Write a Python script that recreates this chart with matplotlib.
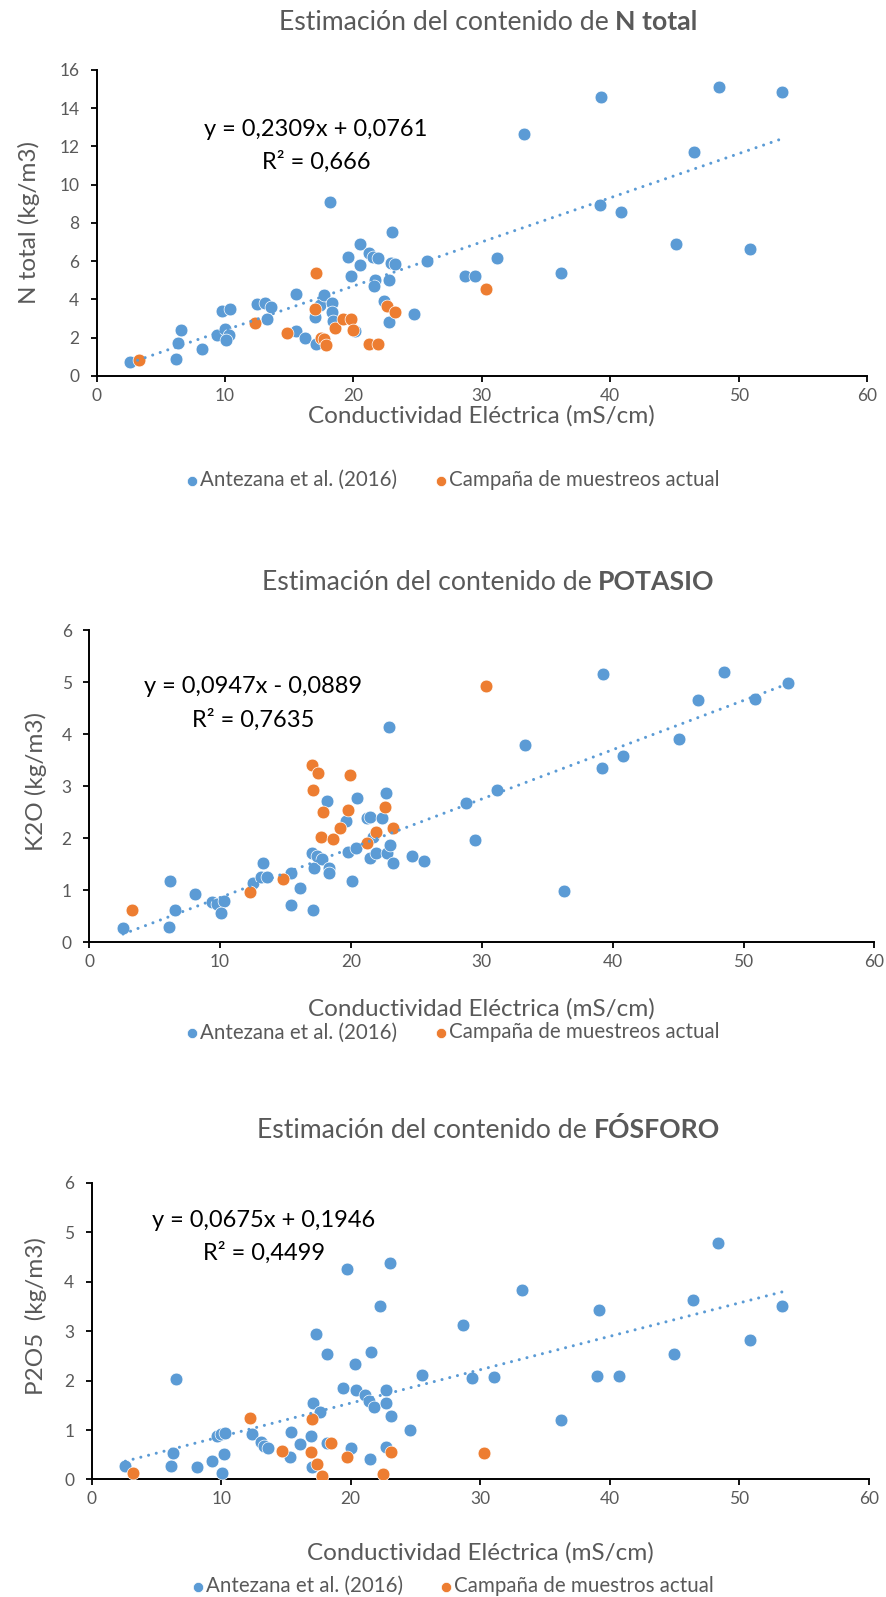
import matplotlib.pyplot as plt
from matplotlib.offsetbox import TextArea, HPacker, AnchoredOffsetbox

# ---- datos ----
# N total
ce_ant_n = [2.6, 6.2, 6.3, 6.6, 8.2, 9.4, 9.8, 10.4, 10.0, 10.3, 10.1, 12.5, 13.1, 13.6,
            13.3, 15.5, 15.5, 16.2, 17.0, 17.1, 17.4, 17.7, 18.3, 18.3, 18.4, 18.2, 20.1,
            19.6, 19.8, 20.5, 20.5, 21.2, 21.5, 21.9, 21.7, 21.6, 22.8, 22.4, 22.8, 22.9,
            23.2, 23.0, 24.7, 25.7, 28.7, 29.5, 31.2, 33.3, 39.3, 36.2, 39.2, 40.8, 45.1,
            46.5, 48.5, 50.9, 53.4]
nt_ant = [0.73, 0.87, 1.69, 2.39, 1.41, 2.11, 3.40, 3.47, 2.43, 2.13, 1.87, 3.77, 3.82, 3.58,
          2.95, 4.26, 2.36, 1.99, 3.05, 1.66, 3.70, 4.22, 3.82, 3.32, 2.88, 9.09, 2.36,
          6.23, 5.20, 6.88, 5.81, 6.40, 6.20, 6.14, 5.01, 4.71, 5.01, 3.93, 2.83, 5.88,
          5.85, 7.52, 3.23, 5.99, 5.22, 5.20, 6.16, 12.65, 14.56, 5.39, 8.94, 8.55, 6.90,
          11.70, 15.10, 6.63, 14.84]
ce_act_n = [3.3, 12.3, 14.8, 17.1, 17.0, 17.5, 17.7, 17.9, 18.6, 19.2, 19.8, 20.0, 21.2,
            21.9, 22.6, 23.2, 30.3]
nt_act = [0.82, 2.77, 2.25, 5.39, 3.47, 2.00, 1.95, 1.61, 2.51, 2.95, 2.95, 2.39, 1.64,
          1.64, 3.66, 3.35, 4.56]

# POTASIO
ce_ant_k = [2.6, 6.1, 6.2, 6.6, 8.1, 9.4, 9.8, 10.3, 10.1, 12.5, 13.1, 13.3, 13.6, 15.4,
            15.4, 16.1, 17.0, 17.1, 17.2, 17.4, 17.8, 18.2, 18.3, 18.3, 19.6, 19.8, 20.1,
            20.4, 20.5, 21.2, 21.5, 21.5, 21.7, 21.9, 22.4, 22.7, 22.9, 22.8, 23.0, 23.2,
            24.7, 25.6, 28.8, 29.5, 31.2, 33.3, 36.3, 39.3, 39.2, 40.8, 45.1, 46.5, 48.5,
            50.9, 53.4]
k2o_ant = [0.27, 0.30, 1.17, 0.61, 0.93, 0.78, 0.74, 0.80, 0.57, 1.13, 1.26, 1.53, 1.26, 1.33,
           0.72, 1.04, 1.72, 0.62, 1.42, 1.66, 1.59, 2.71, 1.42, 1.33, 2.33, 1.74, 1.18,
           1.82, 2.78, 2.38, 2.41, 1.61, 2.02, 1.71, 2.38, 2.86, 4.14, 1.71, 1.87, 1.52,
           1.66, 1.56, 2.68, 1.97, 2.93, 3.79, 0.99, 5.15, 3.35, 3.57, 3.90, 4.65, 5.19,
           4.67, 4.99]
ce_act_k = [3.3, 12.3, 14.8, 17.0, 17.5, 17.1, 17.9, 17.7, 18.6, 19.2, 19.8, 19.9, 21.2,
            21.9, 22.6, 23.2, 30.3]
k2o_act = [0.62, 0.97, 1.22, 3.41, 3.25, 2.93, 2.50, 2.02, 1.98, 2.19, 2.55, 3.21, 1.90,
           2.11, 2.60, 2.19, 4.92]

# FOSFORO
ce_ant_p = [2.6, 6.1, 6.3, 6.5, 8.1, 9.3, 9.7, 10.0, 10.3, 10.2, 10.1, 12.4, 13.1, 13.3,
            13.6, 15.4, 15.3, 16.1, 16.9, 17.1, 17.6, 17.0, 17.3, 18.2, 18.2, 20.0, 19.4,
            20.3, 20.4, 21.1, 21.4, 21.8, 21.5, 21.6, 22.7, 22.7, 22.7, 23.1, 24.6, 25.5,
            19.7, 23.0, 22.3, 28.7, 29.4, 31.1, 33.2, 36.2, 39.2, 39.0, 40.7, 45.0, 46.4,
            48.4, 50.8, 53.3]
p2o5_ant = [0.28, 0.28, 0.54, 2.03, 0.26, 0.37, 0.87, 0.91, 0.95, 0.51, 0.13, 0.91, 0.76,
            0.68, 0.64, 0.97, 0.46, 0.71, 0.88, 1.54, 1.37, 0.25, 2.94, 2.53, 0.74, 0.64,
            1.86, 2.33, 1.80, 1.71, 1.59, 1.46, 0.41, 2.58, 1.80, 1.54, 0.65, 1.28, 1.00,
            2.11, 4.26, 4.37, 3.50, 3.12, 2.06, 2.08, 3.83, 1.20, 3.43, 2.09, 2.09, 2.53,
            3.62, 4.79, 2.82, 3.51]
ce_act_p = [3.2, 12.2, 14.7, 17.0, 16.9, 17.4, 17.8, 18.5, 19.7, 22.5, 23.1, 30.3]
p2o5_act = [0.14, 1.24, 0.58, 1.23, 0.55, 0.31, 0.08, 0.74, 0.45, 0.11, 0.55, 0.53]

# lineas de tendencia (pendiente, ordenada) y R2 de la serie Antezana
tend_n = (0.2309, 0.0761, "0,666")
tend_k = (0.0947, -0.0889, "0,7635")
tend_p = (0.0675, 0.1946, "0,4499")

AZUL = "#5B9BD5"
NARANJA = "#ED7D31"
GRIS = "#595959"

plt.rcParams["font.family"] = "Lato"

fig = plt.figure(figsize=(8.86, 15.97), dpi=100)


def coef(v):
    return f"{abs(v):.4f}".replace(".", ",")


def panel(rect, xa, ya, xb, yb, tend, ymax, ystep, ylabel, negrita,
          ytit, yleg, leg2, ylab_pos, xlab_y, eq_pos):
    ax = fig.add_axes(rect)
    ax.scatter(xa, ya, s=85, color=AZUL, edgecolors="white", linewidths=0.5,
               zorder=3, label="Antezana et al. (2016)")
    ax.scatter(xb, yb, s=85, color=NARANJA, edgecolors="white", linewidths=0.5,
               zorder=3, label=leg2)
    m, b, r2 = tend
    xs = [min(xa), max(xa)]
    ax.plot(xs, [m * x + b for x in xs], color=AZUL, lw=2.2,
            linestyle=(0, (0.01, 2.6)), dash_capstyle="round", zorder=4)
    signo = "+" if b >= 0 else "-"
    ax.text(eq_pos[0], eq_pos[1], f"y = {coef(m)}x {signo} {coef(b)}",
            transform=ax.transAxes, ha="center", va="center", fontsize=17)
    ax.text(eq_pos[0], eq_pos[2], f"R² = {r2}",
            transform=ax.transAxes, ha="center", va="center", fontsize=17)

    ax.set_xlim(0, 60)
    ax.set_ylim(0, ymax)
    ax.set_xticks(range(0, 61, 10))
    ax.set_yticks([i * ystep for i in range(int(ymax / ystep) + 1)])
    for s in ["top", "right"]:
        ax.spines[s].set_visible(False)
    for s in ["left", "bottom"]:
        ax.spines[s].set_linewidth(1.4)
    ax.tick_params(direction="out", length=4.5, width=1.3, labelsize=12.5,
                   labelcolor=GRIS)
    ax.tick_params(axis="y", pad=8)
    ax.tick_params(axis="x", pad=4)
    ax.set_xlabel("Conductividad Eléctrica (mS/cm)", fontsize=17.5, color=GRIS,
                  va="center")
    ax.xaxis.set_label_coords(0.5, xlab_y)
    ax.set_ylabel(ylabel, fontsize=17.5, color=GRIS, va="center")
    ax.yaxis.set_label_coords(*ylab_pos)

    t1 = TextArea("Estimación del contenido de",
                  textprops=dict(color=GRIS, fontsize=19.2))
    t2 = TextArea(negrita, textprops=dict(color=GRIS, fontsize=19.2,
                                          fontweight="bold"))
    caja = HPacker(children=[t1, t2], align="baseline", pad=0, sep=5)
    fig.add_artist(AnchoredOffsetbox(loc="center", child=caja, frameon=False,
                                     bbox_to_anchor=(0.551, ytit),
                                     bbox_transform=fig.transFigure,
                                     pad=0, borderpad=0))
    ax.legend(loc="center", bbox_to_anchor=(0.511, yleg),
              bbox_transform=fig.transFigure, ncol=2, frameon=False,
              fontsize=14.8, labelcolor=GRIS, scatterpoints=1, markerscale=0.8,
              handletextpad=0.1, columnspacing=1.8, handlelength=0.6)
    return ax


panel([0.1091, 0.7647, 0.8695, 0.1915], ce_ant_n, nt_ant, ce_act_n, nt_act,
      tend_n, 16, 2, "N total (kg/m3)", "N total",
      0.986, 0.6993, "Campaña de muestreos actual", (-0.0885, 0.5), -0.13,
      (0.2847, 0.8037, 0.700))

panel([0.1005, 0.4100, 0.8864, 0.1955], ce_ant_k, k2o_ant, ce_act_k, k2o_act,
      tend_k, 6, 1, "K2O (kg/m3)", "POTASIO",
      0.6353, 0.3535, "Campaña de muestreos actual", (-0.0679, 0.514), -0.2136,
      (0.2088, 0.8175, 0.7121))

panel([0.1035, 0.07358, 0.877, 0.1858], ce_ant_p, p2o5_ant, ce_act_p, p2o5_act,
      tend_p, 6, 1, "P2O5  (kg/m3)", "FÓSFORO",
      0.2925, 0.0069, "Campaña de muestros actual", (-0.0722, 0.55), -0.248,
      (0.2218, 0.8743, 0.7642))

fig.savefig("out.png", dpi=100)
